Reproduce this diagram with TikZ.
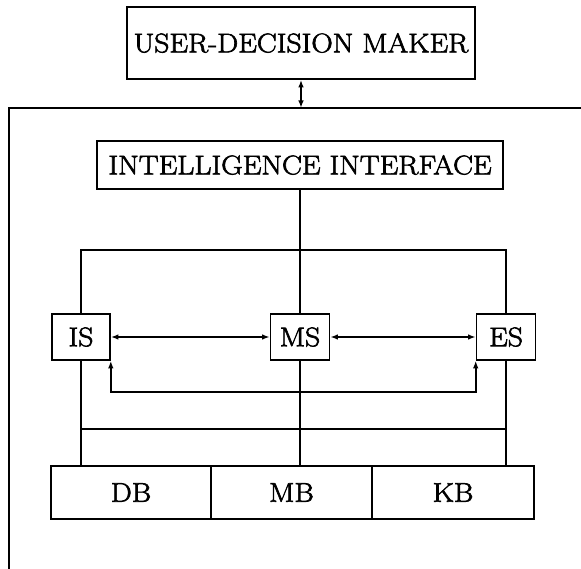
\documentclass[tikz,border=0pt]{standalone}
\usetikzlibrary{arrows.meta}
% labels: slightly widened and set with a thin outline so the strokes read heavier
\newcommand{\boxlabel}[1]{\special{pdf:literal q 2 Tr 0.6 w}\scalebox{1.1}[1]{#1}\special{pdf:literal Q}}
\begin{document}
\begin{tikzpicture}[x=1pt,y=-1pt,
  line width=1.6pt,
  every node/.style={font=\fontsize{27}{31}\selectfont},
  unit/.style={draw, rectangle, inner sep=0pt, line width=1.6pt},
  twotip/.style={{Latex[length=7.5pt,width=5.5pt]}-{Latex[length=7.5pt,width=5.5pt]}}]
\useasboundingbox (0,0) rectangle (581,569);

% top level box and the system frame
\node[unit, minimum width=348pt, minimum height=72pt] (user) at (301,43) {\boxlabel{USER-DECISION MAKER}};
\coordinate (frameTL) at (9,108);
\coordinate (frameTR) at (581,108);
\coordinate (frameBL) at (9,569);
\coordinate (frameIn) at (user.south |- frameTL);
\draw (frameTR) -- (frameTL) -- (frameBL);
\draw[twotip] (user.south) -- (frameIn);

% interface
\node[unit, minimum width=406pt, minimum height=48pt] (ii) at (300,165) {\boxlabel{INTELLIGENCE INTERFACE}};

% subsystems
\node[unit, minimum width=58pt, minimum height=46pt] (is) at (81,337) {\boxlabel{IS}};
\node[unit, minimum width=59pt, minimum height=46pt] (ms) at (300,337) {\boxlabel{MS}};
\node[unit, minimum width=59pt, minimum height=46pt] (es) at (506,337) {\boxlabel{ES}};

% bases
\node[unit, minimum width=160pt, minimum height=53pt] (db) at (131,492.5) {\boxlabel{DB}};
\node[unit, minimum width=161pt, minimum height=53pt] (mb) at (291.5,492.5) {\boxlabel{MB}};
\node[unit, minimum width=162pt, minimum height=53pt] (kb) at (453,492.5) {\boxlabel{KB}};

% connections
\draw (ii.south) -- (ms.north);
\draw (is.north) -- ++(0,-63) -| (es.north);
\draw[twotip] (is.east) -- (ms.west);
\draw[twotip] (ms.east) -- (es.west);
\draw[twotip] (is.south east) -- ++(0,31) -| (es.south west);

\coordinate (bus) at (0,429);
\draw (is.south |- bus) -- (es.south |- bus);
\draw (is.south) -- (is.south |- db.north);
\draw (ms.south) -- (ms.south |- mb.north);
\draw (es.south) -- (es.south |- kb.north);
\end{tikzpicture}
\end{document}
